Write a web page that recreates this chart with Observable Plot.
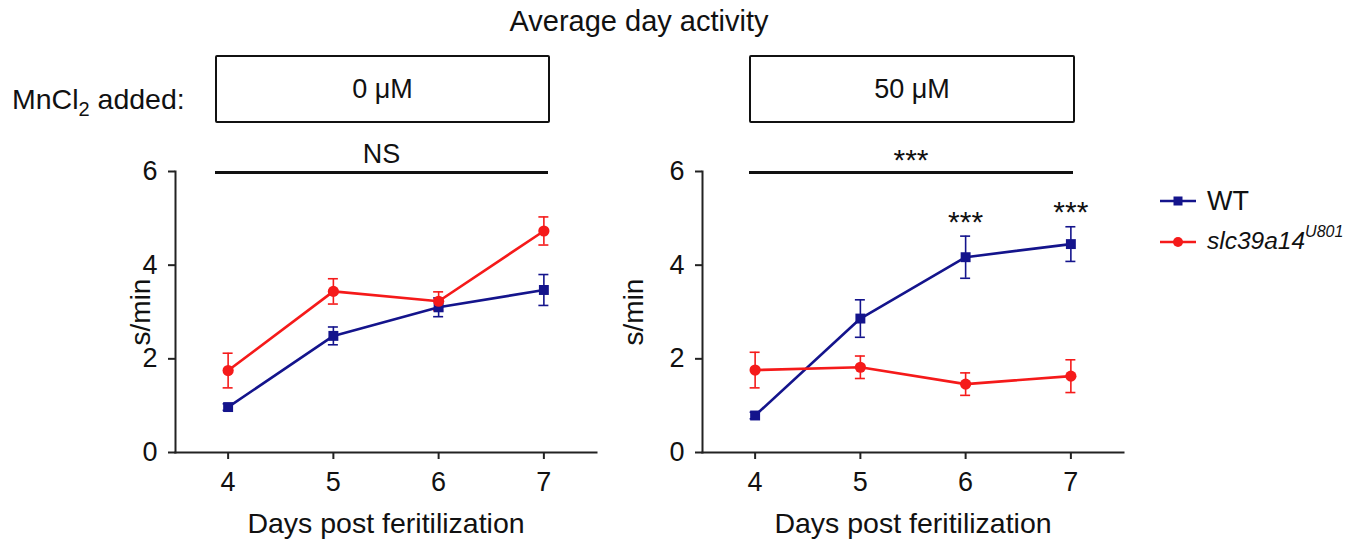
<!DOCTYPE html>
<html><head><meta charset="utf-8">
<script src="https://cdn.jsdelivr.net/npm/d3@7"></script>
<script src="https://cdn.jsdelivr.net/npm/@observablehq/plot@0.6"></script>
<style>
body{margin:0;background:#fff;font-family:"Liberation Sans",Arial,sans-serif;}
#wrap{position:relative;width:1351px;height:541px;overflow:hidden;color:#111;background:#fff;}
.abs{position:absolute;white-space:nowrap;line-height:1;}
.box{position:absolute;border:2.5px solid #111;border-radius:2px;box-sizing:border-box;display:flex;align-items:center;justify-content:center;font-size:27px;}
.sig{position:absolute;height:2.5px;background:#111;}
.plot{position:absolute;top:0;}
.plot svg{overflow:visible;}
</style></head><body><div id="wrap"></div>
<script>
// ---- data ----
const days = [4, 5, 6, 7];
const yTicks = [0, 2, 4, 6];
const seriesNames = ["WT", "slc39a14"];
const seriesColors = ["#14148c", "#f51a1a"];
const seriesSymbols = ["square", "circle"];

const wt0 = [0.97, 2.49, 3.10, 3.47];
const wt0Err = [0.07, 0.19, 0.20, 0.33];
const mut0 = [1.75, 3.44, 3.23, 4.73];
const mut0Err = [0.37, 0.27, 0.20, 0.30];

const wt50 = [0.79, 2.86, 4.17, 4.45];
const wt50Err = [0.07, 0.40, 0.45, 0.37];
const mut50 = [1.76, 1.82, 1.46, 1.63];
const mut50Err = [0.38, 0.24, 0.24, 0.35];

const panelLabels = ["0 μM", "50 μM"];
const panelSig = ["NS", "***"];
const starDays50 = [6, 7];
const starLabel = "***";

const title = "Average day activity";
const xLabel = "Days post feritilization";
const yLabel = "s/min";

// ---- build rows ----
function rows(name, means, errs) {
  return days.map((d, i) => ({series: name, day: d, mean: means[i], err: errs[i]}));
}
const data0 = [...rows("WT", wt0, wt0Err), ...rows("slc39a14", mut0, mut0Err)];
const data50 = [...rows("WT", wt50, wt50Err), ...rows("slc39a14", mut50, mut50Err)];
const stars50 = data50.filter(d => d.series === "WT" && starDays50.includes(d.day));

const FONT = '"Liberation Sans", Arial, sans-serif';

function panel(data, stars, o) {
  const marks = [
    Plot.frame({anchor: "left", stroke: "#222", strokeWidth: 2}),
    Plot.frame({anchor: "bottom", stroke: "#222", strokeWidth: 2}),
    Plot.axisX({ticks: days, tickFormat: "d", tickSize: 7, tickPadding: 12, label: null, strokeWidth: 2, stroke: "#222", fontSize: 27}),
    Plot.axisY({ticks: yTicks, tickFormat: "d", tickSize: 7, tickPadding: 11, label: null, strokeWidth: 2, stroke: "#222", fontSize: 27}),
    Plot.text([xLabel], {frameAnchor: "bottom", dy: 80, text: d => d, fontSize: 28.5, fill: "#111"}),
    Plot.text([yLabel], {frameAnchor: "left", dx: o.yLabelDx, rotate: -90, textAnchor: "middle", lineAnchor: "middle", text: d => d, fontSize: 28, fill: "#111"}),
    Plot.ruleX(data, {x: "day", y1: d => d.mean - d.err, y2: d => d.mean + d.err, stroke: "series", strokeWidth: 1.6}),
    Plot.ruleY(data, {x1: "day", x2: "day", y: d => d.mean + d.err, stroke: "series", strokeWidth: 1.6, insetLeft: -5, insetRight: -5}),
    Plot.ruleY(data, {x1: "day", x2: "day", y: d => d.mean - d.err, stroke: "series", strokeWidth: 1.6, insetLeft: -5, insetRight: -5}),
    Plot.line(data, {x: "day", y: "mean", z: "series", stroke: "series", strokeWidth: 2.6}),
    Plot.dot(data, {x: "day", y: "mean", fill: "series", symbol: "series", r: 5.6, stroke: null})
  ];
  if (stars.length) {
    marks.push(Plot.text(stars, {x: "day", y: d => d.mean + d.err, text: () => starLabel, dy: -14, fontSize: 30, fill: "#111"}));
  }
  return Plot.plot({
    width: o.width, height: 541,
    marginLeft: o.marginLeft, marginRight: o.width - o.marginLeft - 421,
    marginTop: 171, marginBottom: 89,
    x: {domain: [3.5, 7.5]},
    y: {domain: [0, 6]},
    color: {domain: seriesNames, range: seriesColors},
    symbol: {domain: seriesNames, range: seriesSymbols},
    style: {fontFamily: FONT, fontSize: "27px", color: "#111", background: "transparent", overflow: "visible"},
    marks
  });
}

const wrap = document.getElementById("wrap");

const p0 = panel(data0, [], {width: 600, marginLeft: 175, yLabelDx: -34});
const d0 = document.createElement("div"); d0.className = "plot"; d0.style.left = "0px"; d0.appendChild(p0); wrap.appendChild(d0);

const p1 = panel(data50, stars50, {width: 751, marginLeft: 102, yLabelDx: -68});
const d1 = document.createElement("div"); d1.className = "plot"; d1.style.left = "600px"; d1.appendChild(p1); wrap.appendChild(d1);

// ---- annotations (HTML) ----
function addAbs(html, css) {
  const e = document.createElement("div"); e.className = "abs"; e.innerHTML = html;
  Object.assign(e.style, css); wrap.appendChild(e); return e;
}
addAbs(title, {left: "0px", width: "1278px", top: "7px", textAlign: "center", fontSize: "29px"});
addAbs('MnCl<sub style="font-size:20px;vertical-align:-7px;line-height:0">2</sub> added:', {left: "12px", top: "85px", fontSize: "28.5px"});

const headers = [{left: 215, width: 335, sigWidth: 333}, {left: 749, width: 326, sigWidth: 324}];
headers.forEach((h, i) => {
  const b = document.createElement("div"); b.className = "box";
  Object.assign(b.style, {left: h.left + "px", top: "55px", width: h.width + "px", height: "68px"});
  b.textContent = panelLabels[i]; wrap.appendChild(b);
  const s = document.createElement("div"); s.className = "sig";
  Object.assign(s.style, {left: h.left + "px", top: "171px", width: h.sigWidth + "px"}); wrap.appendChild(s);
  addAbs(panelSig[i], {left: h.left + "px", width: h.sigWidth + "px", textAlign: "center", top: i === 0 ? "141px" : "145px", fontSize: i === 0 ? "27px" : "30px"});
});

// legend
const legendItems = [
  {html: "WT", top: 201},
  {html: '<i>slc39a14</i><sup style="font-size:16px;vertical-align:12px;line-height:0"><i>U801</i></sup>', top: 242}
];
legendItems.forEach((it, i) => {
  const svgNS = "http://www.w3.org/2000/svg";
  const svg = document.createElementNS(svgNS, "svg");
  svg.setAttribute("width", 40); svg.setAttribute("height", 14);
  svg.style.position = "absolute"; svg.style.left = "1158px"; svg.style.top = (it.top - 7) + "px";
  const ln = document.createElementNS(svgNS, "line");
  ln.setAttribute("x1", 2); ln.setAttribute("x2", 38); ln.setAttribute("y1", 7); ln.setAttribute("y2", 7);
  ln.setAttribute("stroke", seriesColors[i]); ln.setAttribute("stroke-width", 2.6);
  svg.appendChild(ln);
  let m;
  if (seriesSymbols[i] === "square") {
    m = document.createElementNS(svgNS, "rect");
    m.setAttribute("x", 15.5); m.setAttribute("y", 2.5); m.setAttribute("width", 9); m.setAttribute("height", 9);
  } else {
    m = document.createElementNS(svgNS, "circle");
    m.setAttribute("cx", 20); m.setAttribute("cy", 7); m.setAttribute("r", 5);
  }
  m.setAttribute("fill", seriesColors[i]); svg.appendChild(m);
  wrap.appendChild(svg);
  addAbs(it.html, {left: "1207px", top: (it.top - 13) + "px", fontSize: i === 0 ? "27px" : "24.5px"});
});
</script></body></html>
